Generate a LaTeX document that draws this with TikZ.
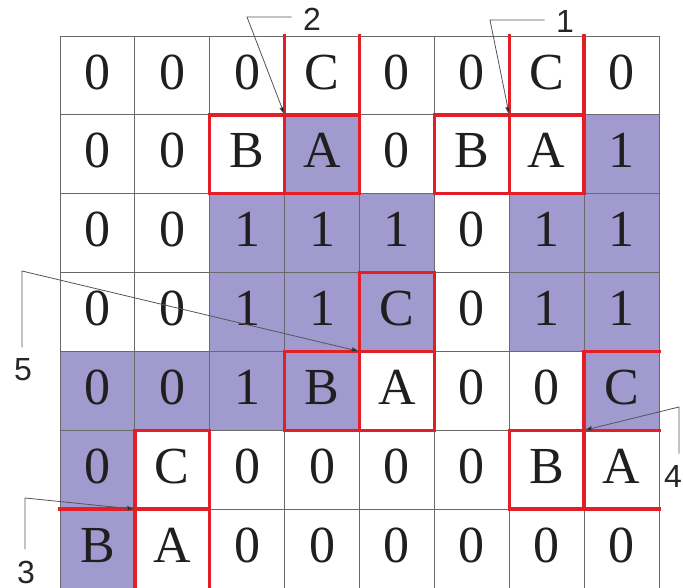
\documentclass[tikz,border=0pt]{standalone}
\usepackage{fontspec}
\setmainfont{Liberation Serif}
\newfontfamily\labfont{Liberation Sans}
\usetikzlibrary{arrows.meta,backgrounds}
\definecolor{lav}{RGB}{160,154,206}
\definecolor{redb}{RGB}{228,30,38}
\definecolor{gridc}{RGB}{105,105,105}
\definecolor{leadc}{RGB}{85,85,85}
\begin{document}
\begin{tikzpicture}[x=0.75pt,y=-0.75pt,
  cell/.style={draw=gridc,line width=0.6pt,minimum width=56.156pt,minimum height=59.143pt,
    inner sep=0pt,outer sep=0pt,font=\fontsize{39}{39}\selectfont,
    text height=26.5pt,text depth=6pt,text=black!88},
  redline/.style={draw=redb,line width=2.6pt,line cap=rect,line join=miter},
  lab/.style={font=\labfont\fontsize{24}{24}\selectfont,inner sep=8.4pt,text=black!85},
  leader/.style={draw=leadc,line width=0.6pt,-{Triangle[length=6pt,width=3.6pt,fill=black!85]}}]
\useasboundingbox (0,0) rectangle (683,588);
% cells
\foreach \r/\row in {0/{0,0,0,C,0,0,C,0},
                     1/{0,0,B,A,0,B,A,1},
                     2/{0,0,1,1,1,0,1,1},
                     3/{0,0,1,1,C,0,1,1},
                     4/{0,0,1,B,A,0,0,C},
                     5/{0,C,0,0,0,0,B,A},
                     6/{B,A,0,0,0,0,0,0}}{
  \foreach \v [count=\c from 0] in \row {
    \node[cell] (c\r\c) at ({60+74.875*(\c+0.5)},{36+78.857*(\r+0.5)}) {\v};
  }
}
% shading
\begin{scope}[on background layer]
\foreach \p in {13,17,22,23,24,26,27,32,33,34,36,37,40,41,42,43,47,50,60}
  \fill[lav] (c\p.north west) rectangle (c\p.south east);
\end{scope}
% red outlines
% group 2
\draw[redline] (c03.north west) -- (c03.south west);
\draw[redline] (c03.north east) -- (c03.south east);
\draw[redline] (c12.north west) rectangle (c12.south east);
\draw[redline] (c13.north west) rectangle (c13.south east);
% group 1
\draw[redline] (c06.north west) -- (c06.south west);
\draw[redline] (c06.north east) -- (c06.south east);
\draw[redline] (c15.north west) rectangle (c15.south east);
\draw[redline] (c16.north west) rectangle (c16.south east);
% group 5
\draw[redline] (c34.north west) rectangle (c34.south east);
\draw[redline] (c43.north west) rectangle (c43.south east);
\draw[redline] (c44.north west) rectangle (c44.south east);
% group 4
\draw[redline] (c47.north east) -- (c47.north west) -- (c47.south west) -- (c47.south east);
\draw[redline] (c56.north west) rectangle (c56.south east);
\draw[redline] (c57.north east) -- (c57.north west) -- (c57.south west) -- (c57.south east);
% group 3
\draw[redline] (c51.north west) rectangle (c51.south east);
\draw[redline] (c60.north west) -- (c60.north east);
\draw[redline] (c61.north west) -- (c61.south west);
\draw[redline] (c61.north east) -- (c61.south east);
% labels and leaders
\node[lab] (l2) at (312,19) {2};
\node[lab] (l1) at (565,21) {1};
\node[lab] (l5) at (23,370) {5};
\node[lab] (l3) at (26,572) {3};
\node[lab] (l4) at (673,476) {4};
\coordinate (k2) at (247,17);
\coordinate (k1) at (490,20);
\coordinate (k5) at (22,271);
\coordinate (k3) at (25,498);
\coordinate (k4) at (679,407);
\draw[leader] (l2.west |- k2) -- (k2) -- (c13.north west);
\draw[leader] (l1.west |- k1) -- (k1) -- (c16.north west);
\draw[leader] (k5 |- l5.north) -- (k5) -- (c44.north west);
\draw[leader] (k3 |- l3.north) -- (k3) -- (c61.north west);
\draw[leader] (k4 |- l4.north) -- (k4) -- (c57.north west);
\end{tikzpicture}
\end{document}
